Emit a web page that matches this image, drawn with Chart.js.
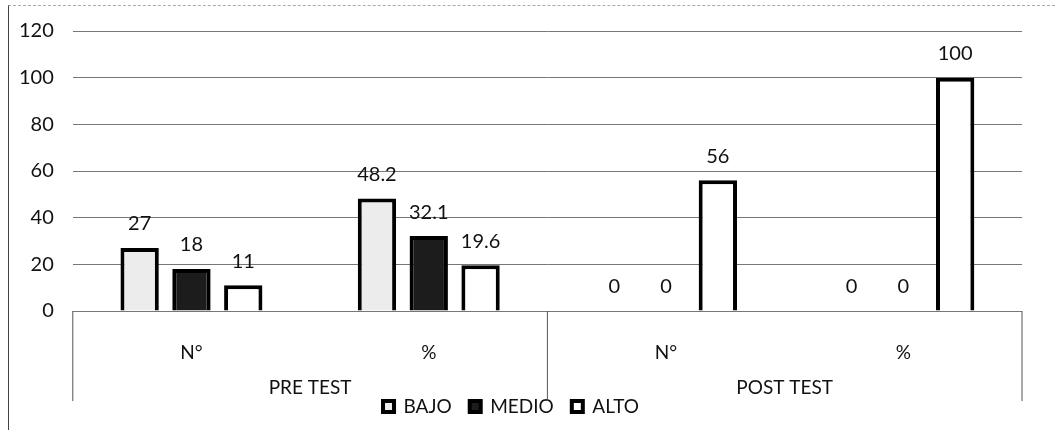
<!DOCTYPE html>
<html>
<head>
<meta charset="utf-8">
<script src="https://cdn.jsdelivr.net/npm/chart.js@4.4.1/dist/chart.umd.min.js"></script>
<style>
  html, body { margin: 0; padding: 0; background: #fff; }
  #wrap { position: relative; width: 1058px; height: 433px; }
  #frame { position: absolute; left: 8px; top: 5px; width: 1046px; height: 424px;
           border-left: 1px solid #444; border-top: 1px dashed #aaa; pointer-events: none; }
</style>
</head>
<body>
<div id="wrap">
  <canvas id="myChart" width="1058" height="433"></canvas>
  <div id="frame"></div>
</div>
<script>
// categorias y grupos
const categorias = ['N°', '%', 'N°', '%'];
const grupos = ['PRE TEST', 'POST TEST'];
const yTicks = [0, 20, 40, 60, 80, 100, 120];

// series
const bajo = [27, 48.2, 0, 0];
const medio = [18, 32.1, 0, 0];
const alto = [11, 19.6, 56, 100];

const fuente = "Lato, 'Open Sans', sans-serif";

// etiquetas encima de cada barra
const etiquetas = {
    id: 'etiquetas',
    afterDatasetsDraw(chart) {
        const ctx = chart.ctx;
        ctx.save();
        ctx.font = '20px ' + fuente;
        ctx.fillStyle = '#111';
        ctx.textAlign = 'center';
        ctx.textBaseline = 'middle';
        chart.data.datasets.forEach((ds, i) => {
            chart.getDatasetMeta(i).data.forEach((bar, j) => {
                ctx.fillText(String(ds.data[j]), bar.x, bar.y - 24);
            });
        });
        ctx.restore();
    }
};

// PRE TEST / POST TEST y lineas separadoras
const gruposEje = {
    id: 'gruposEje',
    afterDraw(chart) {
        const ctx = chart.ctx;
        const x = chart.scales.x;
        const area = chart.chartArea;
        const porGrupo = categorias.length / grupos.length;
        const paso = x.getPixelForValue(1) - x.getPixelForValue(0);
        ctx.save();
        ctx.strokeStyle = '#555';
        ctx.lineWidth = 1;
        for (let g = 0; g <= grupos.length; g++) {
            const px = x.getPixelForValue(g * porGrupo) - paso / 2;
            ctx.beginPath();
            ctx.moveTo(px, area.bottom);
            ctx.lineTo(px, area.bottom + 90);
            ctx.stroke();
        }
        ctx.font = '19px ' + fuente;
        ctx.fillStyle = '#111';
        ctx.textAlign = 'center';
        ctx.textBaseline = 'middle';
        grupos.forEach((g, i) => {
            const a = x.getPixelForValue(i * porGrupo) - paso / 2;
            const b = x.getPixelForValue((i + 1) * porGrupo) - paso / 2;
            ctx.fillText(g, (a + b) / 2, area.bottom + 77);
        });
        ctx.restore();
    }
};

var ctx = document.getElementById('myChart').getContext('2d');
new Chart(ctx, {
    type: 'bar',
    data: {
        labels: categorias,
        datasets: [
            { label: 'BAJO', data: bajo, backgroundColor: '#ececec', borderColor: '#000', borderWidth: 4 },
            { label: 'MEDIO', data: medio, backgroundColor: '#1c1c1c', borderColor: '#000', borderWidth: 4 },
            { label: 'ALTO', data: alto, backgroundColor: '#ffffff', borderColor: '#000', borderWidth: 4 }
        ]
    },
    options: {
        responsive: false,
        animation: false,
        categoryPercentage: 0.655,
        barPercentage: 0.74,
        layout: { padding: { top: 14, right: 36, left: 0, bottom: 7 } },
        scales: {
            x: {
                grid: { display: false },
                border: { display: false },
                ticks: { color: '#111', font: { family: fuente, size: 19 }, padding: 22 },
                afterFit(scale) { scale.height = 68; }
            },
            y: {
                min: 0,
                max: 120,
                afterBuildTicks(scale) { scale.ticks = yTicks.map(v => ({ value: v })); },
                grid: { color: '#777', lineWidth: 1, drawTicks: false },
                border: { display: false },
                ticks: { color: '#111', font: { family: fuente, size: 20 }, padding: 19 }
            }
        },
        plugins: {
            legend: {
                position: 'bottom',
                labels: {
                    color: '#111',
                    font: { family: fuente, size: 19 },
                    boxWidth: 11,
                    boxHeight: 11,
                    padding: 18
                }
            },
            tooltip: { enabled: false }
        }
    },
    plugins: [etiquetas, gruposEje]
});
</script>
</body>
</html>
